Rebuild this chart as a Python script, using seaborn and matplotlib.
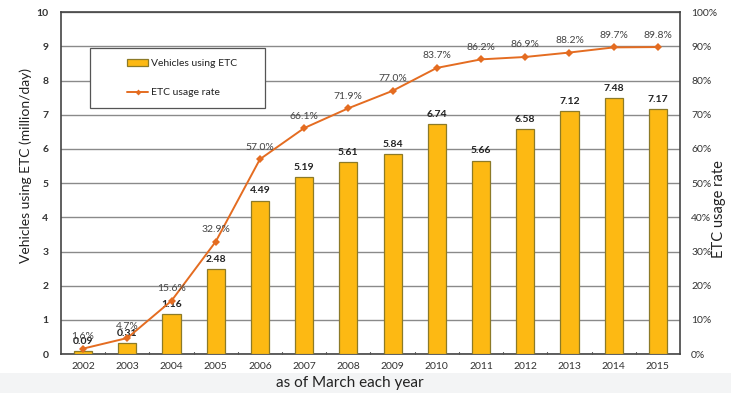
import matplotlib
matplotlib.use("Agg")
import matplotlib.pyplot as plt
from matplotlib.lines import Line2D
from matplotlib.patches import Patch, Rectangle
import pandas as pd
import seaborn as sns

years = ["2002", "2003", "2004", "2005", "2006", "2007", "2008",
         "2009", "2010", "2011", "2012", "2013", "2014", "2015"]
vehicles = [0.09, 0.31, 1.16, 2.48, 4.49, 5.19, 5.61,
            5.84, 6.74, 5.66, 6.58, 7.12, 7.48, 7.17]
usage_rate = [1.6, 4.7, 15.6, 32.9, 57.0, 66.1, 71.9,
              77.0, 83.7, 86.2, 86.9, 88.2, 89.7, 89.8]
left_ticks = list(range(0, 11))
right_ticks = list(range(0, 101, 10))

sns.set_theme(style="white")
plt.rcParams["font.family"] = ["Lato", "DejaVu Sans"]

bar_color = "#FDB913"
bar_edge = "#8C7A28"
line_color = "#E46C21"
text_color = "#333333"

df = pd.DataFrame({"year": years, "vehicles": vehicles, "rate": usage_rate})

fig = plt.figure(figsize=(7.31, 3.93), dpi=100)
fig.patches.append(Rectangle((0, 0), 1, 0.05, transform=fig.transFigure,
                             facecolor="#f3f4f5", edgecolor="none", zorder=-10))
ax = fig.add_axes([0.0834, 0.099, 0.8468, 0.870])

sns.barplot(data=df, x="year", y="vehicles", ax=ax, color=bar_color,
            edgecolor=bar_edge, linewidth=0.9, width=0.41, saturation=1, zorder=3)
ax.set_xlim(-0.5, len(years) - 0.5)
ax.set_ylim(0, 10)
ax.set_yticks(left_ticks)
ax.set_yticklabels([str(t) for t in left_ticks], fontsize=7.5, fontweight="bold",
                   color=text_color)
ax.tick_params(axis="x", labelsize=7.5, labelcolor=text_color, length=0, pad=6)
ax.tick_params(axis="y", length=0, pad=9)
ax.yaxis.grid(True, color="#8a8a8a", linewidth=1.0)
ax.set_axisbelow(True)
ax.set_xlabel("as of March each year", fontsize=11, color="#222222")
ax.xaxis.set_label_coords(0.467, -0.065)
ax.set_ylabel("Vehicles using ETC (million/day)", fontsize=10, color="#222222")
ax.yaxis.set_label_coords(-0.046, 0.553)

# small inward ticks between categories on the bottom axis
for b in range(1, len(years)):
    ax.plot([b - 0.5, b - 0.5], [0, 0.07], color="#555555", linewidth=0.8,
            zorder=4, clip_on=False)

for i, v in enumerate(vehicles):
    ax.text(i, v + 0.15, f"{v:.2f}", ha="center", va="bottom", fontsize=7.5,
            fontweight="bold", color="#222222", zorder=6)

for side in ["left", "right", "top", "bottom"]:
    ax.spines[side].set_color("#444444")
    ax.spines[side].set_linewidth(1.2)

ax2 = ax.twinx()
sns.lineplot(x=list(range(len(years))), y=usage_rate, ax=ax2, color=line_color,
             linewidth=1.4, marker="D", markersize=4, markeredgewidth=0, zorder=5)
ax2.set_ylim(0, 100)
ax2.set_yticks(right_ticks)
ax2.set_yticklabels([f"{t}%" for t in right_ticks], fontsize=7.5, color=text_color)
ax2.tick_params(axis="y", length=0, pad=8)
ax2.set_ylabel("ETC usage rate", fontsize=10.5, color="#222222")
ax2.yaxis.set_label_coords(1.052, 0.424)
ax2.grid(False)
for side in ["left", "right", "top", "bottom"]:
    ax2.spines[side].set_visible(False)

for i, r in enumerate(usage_rate):
    ax2.text(i, r + 2.2, f"{r:.1f}%", ha="center", va="bottom", fontsize=7.5,
             color="#444444", zorder=6)

# legend box with the entries centred inside it
ax.add_patch(Rectangle((0.047, 0.719), 0.283, 0.176, transform=ax.transAxes,
                       facecolor="white", edgecolor="#555555", linewidth=0.9,
                       zorder=9))
handles = [Patch(facecolor=bar_color, edgecolor=bar_edge, linewidth=0.9),
           Line2D([0], [0], color=line_color, linewidth=1.4, marker="D",
                  markersize=3, markeredgewidth=0)]
leg = ax.legend(handles, ["Vehicles using ETC", "ETC usage rate"],
                loc="center left", bbox_to_anchor=(0.107, 0.807),
                fontsize=7.5, frameon=False, borderpad=0,
                labelspacing=1.9, handlelength=2.0, handletextpad=0.25,
                borderaxespad=0)
leg.set_zorder(10)
for t in leg.get_texts():
    t.set_color("#222222")

fig.savefig("out.png", dpi=100)
